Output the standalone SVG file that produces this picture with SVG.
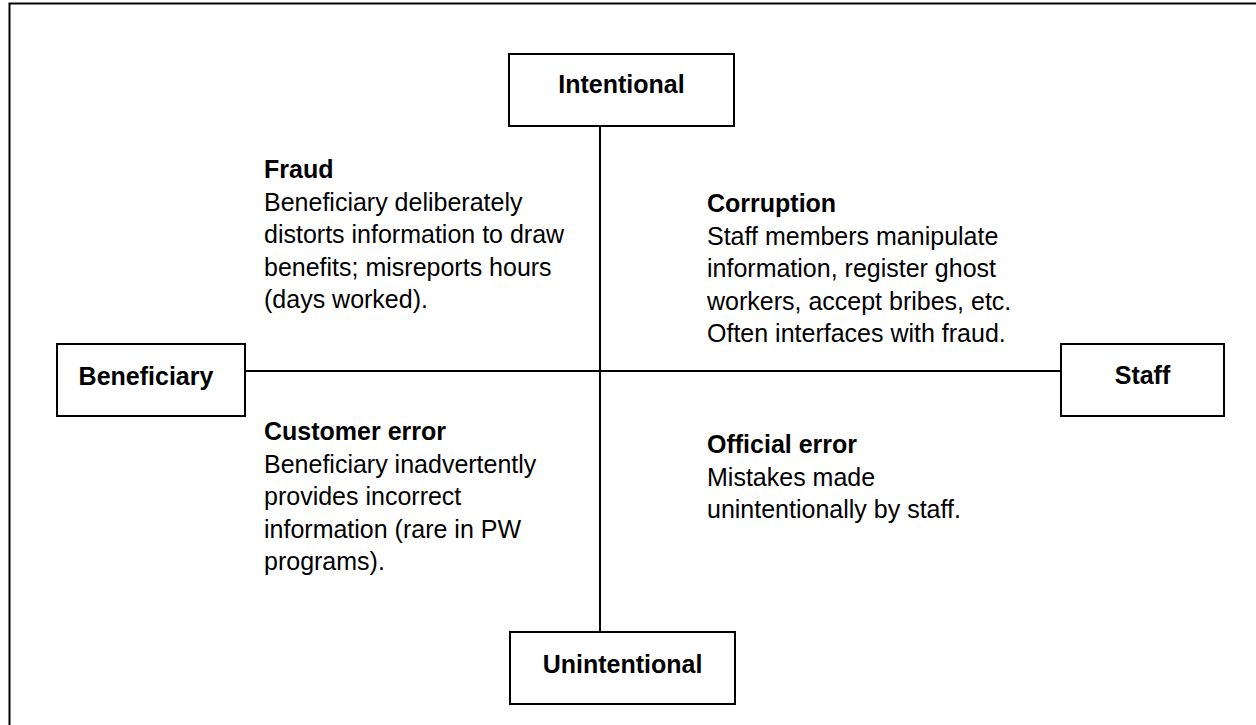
<svg xmlns="http://www.w3.org/2000/svg" width="1256" height="725" viewBox="0 0 1256 725">
<style>
.box{fill:#fff;stroke:#000;stroke-width:2}
.lbl{font-family:"Liberation Sans",Arial,sans-serif;font-size:25px;font-weight:bold;fill:#000;text-anchor:middle}
.hd{font-family:"Liberation Sans",Arial,sans-serif;font-size:25px;font-weight:bold;fill:#000}
.tx{font-family:"Liberation Sans",Arial,sans-serif;font-size:25px;fill:#000}
.ln{stroke:#000;stroke-width:2;fill:none}
</style>
<rect x="0" y="0" width="1256" height="725" fill="#fff"/>
<path class="ln" d="M9.5,725 V3.5 H1256"/>
<g id="connectors">
<line class="ln" x1="600" y1="126" x2="600" y2="632"/>
<line class="ln" x1="245" y1="371" x2="1061" y2="371"/>
</g>
<g id="intentional">
<rect class="box" x="509" y="54" width="225" height="72"/>
<text class="lbl" x="621.5" y="93">Intentional</text>
</g>
<g id="unintentional">
<rect class="box" x="510" y="632" width="225" height="72"/>
<text class="lbl" x="622.5" y="673">Unintentional</text>
</g>
<g id="beneficiary">
<rect class="box" x="57" y="344" width="188" height="72"/>
<text class="lbl" x="146" y="385">Beneficiary</text>
</g>
<g id="staff">
<rect class="box" x="1061" y="344" width="163" height="72"/>
<text class="lbl" x="1142.5" y="384">Staff</text>
</g>
<g id="fraud">
<text class="hd" x="264" y="178">Fraud</text>
<text class="tx" x="264" y="210.5">Beneficiary deliberately</text>
<text class="tx" x="264" y="243">distorts information to draw</text>
<text class="tx" x="264" y="275.5">benefits; misreports hours</text>
<text class="tx" x="264" y="308">(days worked).</text>
</g>
<g id="corruption">
<text class="hd" x="707" y="212">Corruption</text>
<text class="tx" x="707" y="244.5">Staff members manipulate</text>
<text class="tx" x="707" y="277">information, register ghost</text>
<text class="tx" x="707" y="309.5">workers, accept bribes, etc.</text>
<text class="tx" x="707" y="342">Often interfaces with fraud.</text>
</g>
<g id="customer-error">
<text class="hd" x="264" y="440">Customer error</text>
<text class="tx" x="264" y="472.5">Beneficiary inadvertently</text>
<text class="tx" x="264" y="505">provides incorrect</text>
<text class="tx" x="264" y="537.5">information (rare in PW</text>
<text class="tx" x="264" y="570">programs).</text>
</g>
<g id="official-error">
<text class="hd" x="707" y="453">Official error</text>
<text class="tx" x="707" y="485.5">Mistakes made</text>
<text class="tx" x="707" y="518">unintentionally by staff.</text>
</g>
</svg>
